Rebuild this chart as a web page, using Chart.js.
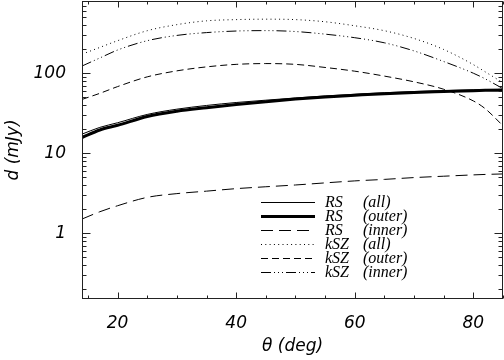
<!DOCTYPE html>
<html><head><meta charset="utf-8">
<script src="https://cdn.jsdelivr.net/npm/chart.js@4/dist/chart.umd.min.js"></script>
<style>html,body{margin:0;padding:0;background:#fff;}#wrap{width:504px;height:360px;}</style>
</head><body><div id="wrap"><canvas id="c" width="504" height="360"></canvas></div>
<script>
// ---- data ----
const theta     = [14, 17, 20, 25, 30, 35, 40, 45, 50, 55, 60, 65, 70, 75, 80, 82, 85];
const rsAll     = [17.3, 21, 24, 30.5, 35.5, 39.5, 43, 46, 49, 52, 54.5, 57, 59, 60.5, 62, 62.5, 63];
const rsOuter   = [15.7, 19.5, 22.3, 28.8, 33.5, 37, 40.5, 44, 47.5, 50.5, 53, 55.5, 57.5, 59, 60.5, 61, 61.5];
const rsInner   = [1.5, 1.85, 2.2, 2.8, 3.12, 3.35, 3.6, 3.8, 4.0, 4.25, 4.5, 4.7, 4.95, 5.15, 5.35, 5.42, 5.5];
const kszAll    = [173, 210, 255, 340, 405, 452, 468, 474, 468, 440, 392, 340, 272, 198, 128, 104, 76];
const kszOuter  = [47, 56, 68, 90, 107, 120, 129, 132, 129, 118, 106, 92, 78, 63, 45, 36, 22];
const kszInner  = [123, 155, 195, 255, 297, 322, 337, 341, 332, 308, 278, 240, 190, 140, 100, 85, 64];
const seriesNames = ['RS (all)', 'RS (outer)', 'RS (inner)', 'kSZ (all)', 'kSZ (outer)', 'kSZ (inner)'];
const xTickValues = [20, 40, 60, 80];
const xMinorTicks = [15, 25, 30, 35, 45, 50, 55, 65, 70, 75, 85];
const yTickValues = [1, 10, 100];
const yMinorTicks = [0.2,0.3,0.4,0.5,0.6,0.7,0.8,0.9,2,3,4,5,6,7,8,9,20,30,40,50,60,70,80,90,200,300,400,500,600,700,800];
const xLabel = 'θ (deg)';
const yLabel = 'd (mJy)';

const styles = [
  {w:1, dash:[]},
  {w:3, dash:[]},
  {w:1, dash:[12,6]},
  {w:1, dash:[1,3.3]},
  {w:1, dash:[7,4]},
  {w:1, dash:[10,3,1,3,1,3,1,3]}
];
const values = [rsAll, rsOuter, rsInner, kszAll, kszOuter, kszInner];
const datasets = values.map((arr, i) => ({
  label: seriesNames[i],
  data: arr.map((v, k) => ({x: theta[k], y: v})),
  borderColor: '#000',
  borderWidth: styles[i].w,
  borderDash: styles[i].dash,
  pointRadius: 0,
  fill: false,
  cubicInterpolationMode: 'monotone'
}));

const tickFont = {family: "'DejaVu Sans', sans-serif", size: 17, style: 'italic', weight: 'normal'};

const framePlugin = {
  id: 'frame',
  afterDraw(chart) {
    const ctx = chart.ctx, a = chart.chartArea;
    const xs = chart.scales.x, ys = chart.scales.y;
    ctx.save();
    ctx.strokeStyle = '#222';
    ctx.lineWidth = 1;
    ctx.setLineDash([]);
    const L = Math.round(a.left) + 0.5, R = Math.round(a.right) - 0.5;
    const T = Math.round(a.top) + 0.5, B = Math.round(a.bottom) - 0.5;
    ctx.strokeRect(L, T, R - L, B - T);
    ctx.beginPath();
    const xt = (v, len) => {
      const p = Math.round(xs.getPixelForValue(v)) + 0.5;
      ctx.moveTo(p, B); ctx.lineTo(p, B - len);
      ctx.moveTo(p, T); ctx.lineTo(p, T + len);
    };
    const yt = (v, len) => {
      const p = Math.round(ys.getPixelForValue(v)) + 0.5;
      ctx.moveTo(L, p); ctx.lineTo(L + len, p);
      ctx.moveTo(R, p); ctx.lineTo(R - len, p);
    };
    xTickValues.forEach(v => xt(v, 6));
    xMinorTicks.forEach(v => xt(v, 3));
    yTickValues.forEach(v => yt(v, 8));
    yMinorTicks.forEach(v => yt(v, 4));
    ctx.stroke();

    // legend
    const lx0 = a.left + 179, lx1 = a.left + 233, tx1 = a.left + 243, tx2 = a.left + 281;
    const ly0 = a.top + 200.5, dy = 14;
    ctx.font = "italic 16px 'Liberation Serif', serif";
    ctx.fillStyle = '#000';
    ctx.textBaseline = 'middle';
    ctx.textAlign = 'left';
    chart.data.datasets.forEach((ds, i) => {
      const y = Math.round(ly0 + i * dy) + (ds.borderWidth % 2 ? 0.5 : 0);
      ctx.beginPath();
      ctx.strokeStyle = ds.borderColor;
      ctx.lineWidth = ds.borderWidth;
      ctx.setLineDash(ds.borderDash);
      ctx.moveTo(lx0, y); ctx.lineTo(lx1, y);
      ctx.stroke();
      const parts = ds.label.split(' ');
      ctx.fillText(parts[0], tx1, y);
      ctx.fillText(parts[1], tx2, y);
    });
    ctx.restore();
  }
};

new Chart(document.getElementById('c'), {
  type: 'line',
  data: {datasets},
  options: {
    responsive: false,
    animation: false,
    devicePixelRatio: 1,
    layout: {padding: {top: 1, right: 1, left: 0, bottom: 0}},
    plugins: {legend: {display: false}, tooltip: {enabled: false}},
    scales: {
      x: {
        type: 'linear', min: 14, max: 85, position: 'bottom',
        grid: {display: false}, border: {display: false},
        afterBuildTicks: s => { s.ticks = xTickValues.map(v => ({value: v})); },
        afterFit: s => { s.height = 61; s.paddingLeft = 0; s.paddingRight = 0; },
        ticks: {font: tickFont, color: '#000', padding: 6, maxRotation: 0, callback: v => String(v)},
        title: {display: true, text: xLabel, font: tickFont, color: '#000', padding: {top: 0, bottom: 3}}
      },
      y: {
        type: 'logarithmic', min: 0.15, max: 800,
        grid: {display: false}, border: {display: false},
        afterBuildTicks: s => { s.ticks = yTickValues.map(v => ({value: v})); },
        afterFit: s => { s.width = 82; s.paddingTop = 0; s.paddingBottom = 0; },
        ticks: {font: tickFont, color: '#000', padding: 8, callback: v => String(v)},
        title: {display: true, text: yLabel, font: tickFont, color: '#000', padding: {top: 3, bottom: 0}}
      }
    }
  },
  plugins: [framePlugin]
});
</script></body></html>
